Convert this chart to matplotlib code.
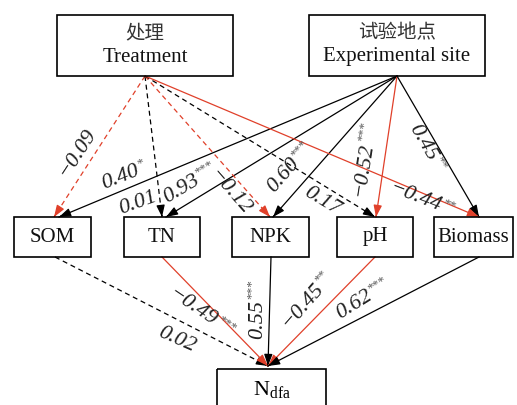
import numpy as np
import matplotlib.pyplot as plt
from matplotlib.patches import Rectangle

plt.rcParams['font.family'] = ['Liberation Serif', 'Noto Sans CJK SC']
plt.rcParams['mathtext.fontset'] = 'custom'
plt.rcParams['mathtext.rm'] = 'Liberation Serif'
plt.rcParams['mathtext.it'] = 'Liberation Serif:italic'

RED = '#e0402a'

# structural equation model: path coefficients and significance
sources = ['Treatment', 'Site', 'Treatment', 'Site', 'Treatment', 'Site',
           'Treatment', 'Site', 'Site', 'Treatment',
           'SOM', 'TN', 'NPK', 'pH', 'Biomass']
targets = ['SOM', 'SOM', 'TN', 'TN', 'NPK', 'NPK',
           'pH', 'pH', 'Biomass', 'Biomass',
           'Ndfa', 'Ndfa', 'Ndfa', 'Ndfa', 'Ndfa']
coefs = [-0.09, 0.40, 0.01, 0.93, -0.12, 0.60,
         0.17, -0.52, 0.45, -0.44,
         0.02, -0.49, 0.55, -0.45, 0.62]
stars = ['', '*', '', '***', '', '***',
         '', '***', '**', '**',
         '', '***', '***', '**', '***']

node_text = {
    'Treatment': '处理\nTreatment',
    'Site': '试验地点\nExperimental site',
    'SOM': 'SOM', 'TN': 'TN', 'NPK': 'NPK', 'pH': 'pH', 'Biomass': 'Biomass',
    'Ndfa': r'$\mathrm{N}_{\mathrm{dfa}}$',
}

# layout (pixel units, y down)
boxes = {
    'Treatment': (57, 15, 233, 76),
    'Site': (309, 15, 485, 76),
    'SOM': (14, 217, 91, 257),
    'TN': (124, 217, 200, 257),
    'NPK': (232, 217, 309, 257),
    'pH': (337, 217, 413, 257),
    'Biomass': (434, 217, 513, 257),
    'Ndfa': (217, 369, 326, 430),
}
out_port = {'Treatment': (145, 76), 'Site': (397, 76),
            'SOM': (55, 257), 'TN': (162, 257), 'NPK': (271, 257),
            'pH': (375, 257), 'Biomass': (479, 257)}
in_port = {'SOM': (54, 217), 'TN': (162, 217), 'NPK': (270, 217),
           'pH': (375, 217), 'Biomass': (479, 217), 'Ndfa': (268, 366)}
site_shift = {'SOM': 5, 'TN': 4, 'NPK': 3, 'pH': 1, 'Biomass': 0}

label_xy = [(77, 153), (124, 176), (138, 203), (190, 184), (230, 192),
            (290, 168), (322, 201), (365, 160), (426, 148), (421, 200),
            (177, 340), (201, 313), (258, 310), (307, 301), (363, 300)]
label_rot = [57, 22, 20, 31, -49, 49, -31, 81, -60, -21,
             -24, -34, 90, 49, 32]

fig = plt.figure(figsize=(5.17, 4.05), dpi=100)
ax = fig.add_axes([0, 0, 1, 1])
ax.set_xlim(0, 517)
ax.set_ylim(405, 0)
ax.axis('off')
renderer = fig.canvas.get_renderer()


def text_width(s, **kw):
    t = ax.text(0, 0, s, **kw)
    w = t.get_window_extent(renderer).width
    t.remove()
    return w


# nodes
for name, (x0, y0, x1, y1) in boxes.items():
    ax.add_patch(Rectangle((x0, y0), x1 - x0, y1 - y0, fill=False,
                           edgecolor='black', lw=1.2, zorder=3))
    cx = (x0 + x1) / 2
    if '\n' in node_text[name]:
        zh, en = node_text[name].split('\n')
        ax.text(cx, y0 + 18, zh, ha='center', va='center', fontsize=14,
                family=['Noto Sans CJK SC'], color='#333333')
        ax.text(cx, y0 + 42, en, ha='center', va='center', fontsize=15,
                color='#111111')
    elif name == 'Ndfa':
        ax.text(cx, 389, node_text[name], ha='center', va='center', fontsize=16)
    else:
        ax.text(cx, (y0 + y1) / 2, node_text[name], ha='center', va='center',
                fontsize=15, color='#111111')

num_kw = dict(fontsize=16, style='italic')
star_kw = dict(fontsize=9.5)

# paths
for i, (s, t, c, st) in enumerate(zip(sources, targets, coefs, stars)):
    x0, y0 = out_port[s]
    x1, y1 = in_port[t]
    if s == 'Site':
        x1 += site_shift[t]
    color = RED if c < 0 else 'black'
    ls = '-' if st else (0, (4, 3))
    ax.plot([x0, x1], [y0, y1], color=color, lw=0.9, linestyle=ls, zorder=2)
    d = np.array([x1 - x0, y1 - y0], dtype=float)
    d /= np.hypot(*d)
    ax.annotate('', xy=(x1, y1), xytext=(x1 - d[0] * 2, y1 - d[1] * 2),
                arrowprops=dict(arrowstyle='-|>,head_length=0.7,head_width=0.25',
                                color=color, lw=0.9, shrinkA=0, shrinkB=0,
                                mutation_scale=10), zorder=2)

    # coefficient label: italic number with superscript stars
    num = ('\u2212' if c < 0 else '') + f'{abs(c):.2f}'
    wn = text_width(num, **num_kw)
    ws = text_width(st, **star_kw) if st else 0
    r = np.radians(label_rot[i])
    u = np.array([np.cos(r), -np.sin(r)])
    up = np.array([-np.sin(r), -np.cos(r)])
    L = np.array(label_xy[i], dtype=float)
    start = L - u * (wn + ws) / 2
    pn = start + u * wn / 2
    ax.text(pn[0], pn[1], num, ha='center', va='center',
            rotation=label_rot[i], rotation_mode='anchor', color='#222222',
            zorder=4, **num_kw)
    if st:
        ps = start + u * (wn + 1) + up * 6
        ax.text(ps[0], ps[1], st, ha='left', va='center',
                rotation=label_rot[i], rotation_mode='anchor', color='#555555',
                zorder=4, **star_kw)

fig.savefig('out.png', dpi=100)
